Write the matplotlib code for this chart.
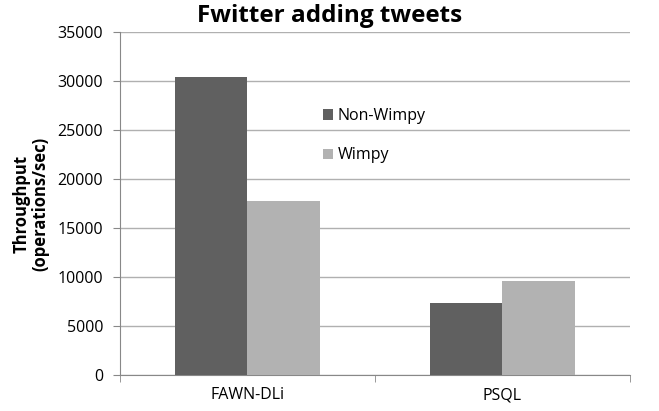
import matplotlib
matplotlib.use("Agg")
import matplotlib.pyplot as plt
import numpy as np

categories = ["FAWN-DLi", "PSQL"]
series_names = ["Non-Wimpy", "Wimpy"]
non_wimpy = [30400, 7350]
wimpy = [17750, 9600]
yticks = [0, 5000, 10000, 15000, 20000, 25000, 30000, 35000]

plt.rcParams['font.family'] = ['Open Sans', 'DejaVu Sans']

fig = plt.figure(figsize=(6.59, 4.11), dpi=100)
ax = fig.add_axes([0.182, 0.0876, 0.774, 0.8345])

x = np.arange(len(categories))
w = 0.286
c1, c2 = "#606060", "#b2b2b2"
ax.bar(x - w/2, non_wimpy, w, color=c1, label=series_names[0], zorder=3)
ax.bar(x + w/2, wimpy, w, color=c2, label=series_names[1], zorder=3)

ax.set_xlim(-0.5, len(categories) - 0.5)
ax.set_ylim(0, 35000)
ax.set_yticks(yticks)
ax.set_yticklabels([str(v) for v in yticks], fontsize=11.5)
ax.set_xticks(x)
ax.set_xticklabels(categories, fontsize=11.5)
ax.tick_params(axis='x', length=0, pad=9)
ax.set_xticks([-0.5, 0.5, 1.5], minor=True)
ax.tick_params(axis='x', which='minor', length=5, color='#888888')
ax.tick_params(axis='y', length=5, color='#888888', pad=7)

ax.yaxis.grid(True, color='#b0b0b0', linewidth=1, zorder=0)
ax.set_axisbelow(True)
for s in ['top', 'right']:
    ax.spines[s].set_visible(False)
ax.spines['left'].set_color('#888888')
ax.spines['bottom'].set_color('#888888')

fig.text(0.5, 0.99, "Fwitter adding tweets", fontsize=17.5, fontweight='bold',
         ha='center', va='top')
ax.set_ylabel("Throughput\n(operations/sec)", fontsize=12, fontweight='bold',
              labelpad=6, linespacing=1.05)

leg = ax.legend(loc='upper left', bbox_to_anchor=(0.37, 0.82), frameon=False,
                fontsize=11.5, handlelength=0.6, handleheight=0.6, handletextpad=0.3,
                labelspacing=1.45)

fig.savefig("out.png", dpi=100)
